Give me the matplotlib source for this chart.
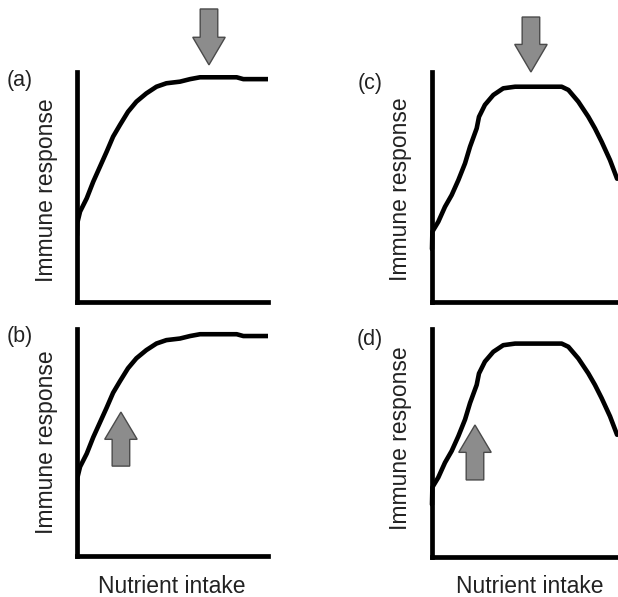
import matplotlib
matplotlib.use("Agg")
import matplotlib.pyplot as plt

plt.rcParams["font.family"] = ["Liberation Sans", "DejaVu Sans"]

# curve shapes (nutrient intake 0-100, immune response 0-100)
plateau_x = [0, 0.2, 1.6, 5.1, 8.5, 12, 15.5, 18.9, 22.5, 26.7, 31.1, 36.3,
             41.6, 46.8, 53.9, 59.2, 64.4, 83.6, 87.1, 100]
plateau_y = [29, 34.5, 39.3, 45.1, 52.3, 58.8, 65.3, 71.9, 77, 82.7, 87.1, 90.7,
             93.6, 95.1, 95.8, 96.9, 97.7, 97.7, 96.9, 96.9]

peak_x = [0, 0.2, 3.3, 6.8, 10.3, 13.8, 17.3, 19.9, 23.4, 24.6, 27.7, 32.1,
          37.3, 43.5, 67.9, 71.4, 76.6, 81.8, 85.3, 88.8, 93.2, 96.9]
peak_y = [23, 30.6, 34.9, 41.4, 46.5, 53, 60.3, 67.5, 75.5, 80.5, 85.7, 90,
          92.9, 93.6, 93.6, 92.2, 87.1, 80.6, 75.5, 69.7, 61.7, 53.6]

panel_labels = ["(a)", "(b)", "(c)", "(d)"]
xlabel = "Nutrient intake"
ylabel = "Immune response"

# arrows: centre x, start y, dy (data units)
arrows = {
    "(a)": (69.1, 127.4, -24.3),
    "(b)": (23.0, 39.6, 23.8),
    "(c)": (51.8, 123.9, -23.9),
    "(d)": (22.5, 33.8, 24.1),
}

fig = plt.figure(figsize=(6.18, 5.97), dpi=100)
W, H = 618, 597

# (left px, top px, bottom px)
boxes = {
    "(a)": (77, 72, 302),
    "(b)": (77, 329, 556),
    "(c)": (432, 72, 302),
    "(d)": (432, 329, 557),
}
span = 191

ylab_pos = {"(a)": (-0.126, 0.487), "(b)": (-0.126, 0.502),
            "(c)": (-0.131, 0.491), "(d)": (-0.131, 0.522)}
xlab_pos = {"(b)": (0.497, -0.163), "(d)": (0.513, -0.158)}
letter_pos = {"(a)": (-0.298, 0.961), "(b)": (-0.298, 0.965),
              "(c)": (-0.325, 0.952), "(d)": (-0.325, 0.952)}

for lab in panel_labels:
    left, top, bottom = boxes[lab]
    ax = fig.add_axes([left / W, 1 - bottom / H, span / W, (bottom - top) / H])
    if lab in ("(a)", "(b)"):
        ax.plot(plateau_x, plateau_y, color="black", lw=3.3,
                solid_capstyle="round", solid_joinstyle="round")
    else:
        ax.plot(peak_x, peak_y, color="black", lw=3.3, clip_on=False,
                solid_capstyle="round", solid_joinstyle="round")
    ax.set_xlim(0, 100)
    ax.set_ylim(0, 100)
    for s in ("top", "right"):
        ax.spines[s].set_visible(False)
    for s in ("left", "bottom"):
        ax.spines[s].set_linewidth(3.4)
        ax.spines[s].set_color("black")
        ax.spines[s].set_capstyle("projecting")
    ax.set_xticks([])
    ax.set_yticks([])
    ax.patch.set_visible(False)

    yx, yy = ylab_pos[lab]
    ax.text(yx, yy, ylabel, transform=ax.transAxes, fontsize=16.5,
            color="#222222", rotation=90, rotation_mode="anchor",
            ha="center", va="baseline")
    if lab in xlab_pos:
        xx, xy = xlab_pos[lab]
        ax.text(xx, xy, xlabel, transform=ax.transAxes, fontsize=16.5,
                color="#222222", ha="center", va="baseline")

    lx, ly = letter_pos[lab]
    ax.text(lx, ly, lab, transform=ax.transAxes, fontsize=15.5,
            color="#222222", ha="center", va="center")

    x0, y0, dy = arrows[lab]
    ax.arrow(x0, y0, 0, dy, width=9.2, head_width=17, head_length=12,
             length_includes_head=True, facecolor="#8c8c8c",
             edgecolor="#4a4a4a", linewidth=1, clip_on=False, zorder=5)

fig.savefig("out.png", dpi=100)
